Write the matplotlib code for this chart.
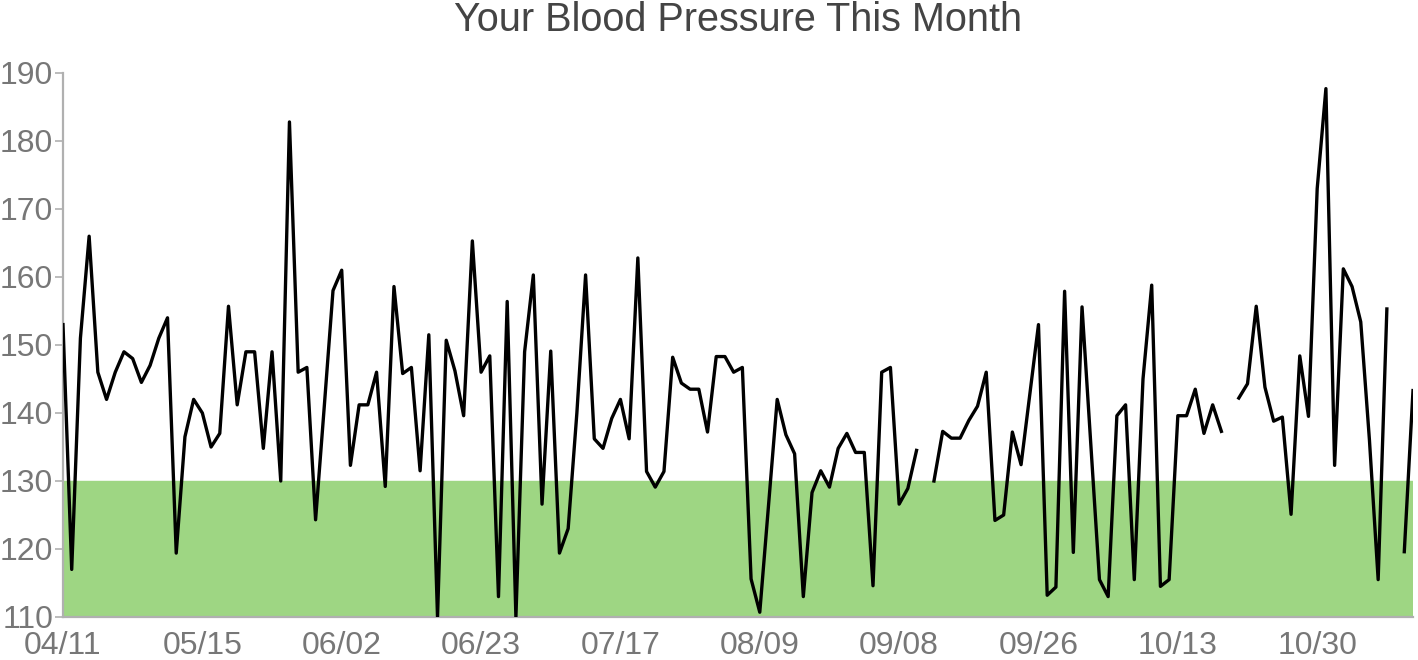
import numpy as np
import matplotlib.pyplot as plt

# Systolic readings, one per entry (nan = missing reading)
readings = [
    153, 117, 151, 166, 146, 142, 146, 149, 148, 144.5,
    147, 151, 154, 119.4, 136.5, 142, 140, 135, 137, 155.7,
    141.2, 149, 149, 134.8, 149, 130, 182.8, 146, 146.7, 124.3,
    141, 158, 161, 132.3, 141.2, 141.2, 146, 129.2, 158.6, 145.8,
    146.7, 131.5, 151.5, 110, 150.7, 146.2, 139.6, 165.3, 146, 148.4,
    113, 156.4, 110, 149, 160.3, 126.6, 149.1, 119.4, 123, 140,
    160.3, 136.2, 134.8, 139.2, 142, 136.2, 162.8, 131.4, 129.1, 131.4,
    148.2, 144.4, 143.5, 143.5, 137.2, 148.3, 148.3, 146, 146.7, 115.6,
    110.7, 126.3, 142, 136.8, 134, 113, 128.3, 131.5, 129.1, 134.8,
    137, 134.2, 134.2, 114.6, 146, 146.7, 126.6, 128.9, 134.5, np.nan,
    130, 137.3, 136.3, 136.3, 138.9, 141, 146, 124.2, 125, 137.2,
    132.4, 142.7, 153, 113.2, 114.4, 157.9, 119.5, 155.6, 135.6, 115.5,
    113, 139.6, 141.2, 115.5, 145, 158.8, 114.5, 115.5, 139.6, 139.6,
    143.5, 137, 141.2, 137.3, np.nan, 142.2, 144.3, 155.7, 143.8, 138.8,
    139.4, 125.1, 148.4, 139.5, 173, 187.7, 132.3, 161.2, 158.6, 153.4,
    136, 115.5, 155.3, np.nan, 119.6, 143.3,
]
tick_labels = ['04/11', '05/15', '06/02', '06/23', '07/17',
               '08/09', '09/08', '09/26', '10/13', '10/30']
tick_step = 16
target_low, target_high = 110, 130

plt.rcParams['font.family'] = ['Liberation Sans', 'DejaVu Sans']

fig = plt.figure(figsize=(14.18, 6.6), dpi=100)
ax = fig.add_axes([63 / 1418, 43 / 660, 1350 / 1418, 544 / 660])

x = np.arange(len(readings))
ax.axhspan(target_low, target_high, color='#9ed683', zorder=1)
ax.plot(x, readings, color='black', linewidth=2.4, zorder=3)

ax.set_xlim(0, len(readings) - 1)
ax.set_ylim(110, 190)
ax.set_yticks(np.arange(110, 191, 10))
ax.set_xticks(np.arange(len(tick_labels)) * tick_step)
ax.set_xticklabels(tick_labels)

for side in ['top', 'right']:
    ax.spines[side].set_visible(False)
for side in ['left', 'bottom']:
    ax.spines[side].set_color('#b0b0b0')
    ax.spines[side].set_linewidth(1.6)

ax.tick_params(axis='y', colors='#b0b0b0', length=6, width=1.2,
               labelsize=23, labelcolor='#777777', pad=1)
ax.tick_params(axis='x', length=0, labelsize=23,
               labelcolor='#777777', pad=10)

# title centred over the plot area
fig.text((63 + 1350 / 2) / 1418, 1 - 20 / 660, 'Your Blood Pressure This Month',
         fontsize=28.5, color='#444444', ha='center', va='center')

fig.savefig('out.png', dpi=100)
